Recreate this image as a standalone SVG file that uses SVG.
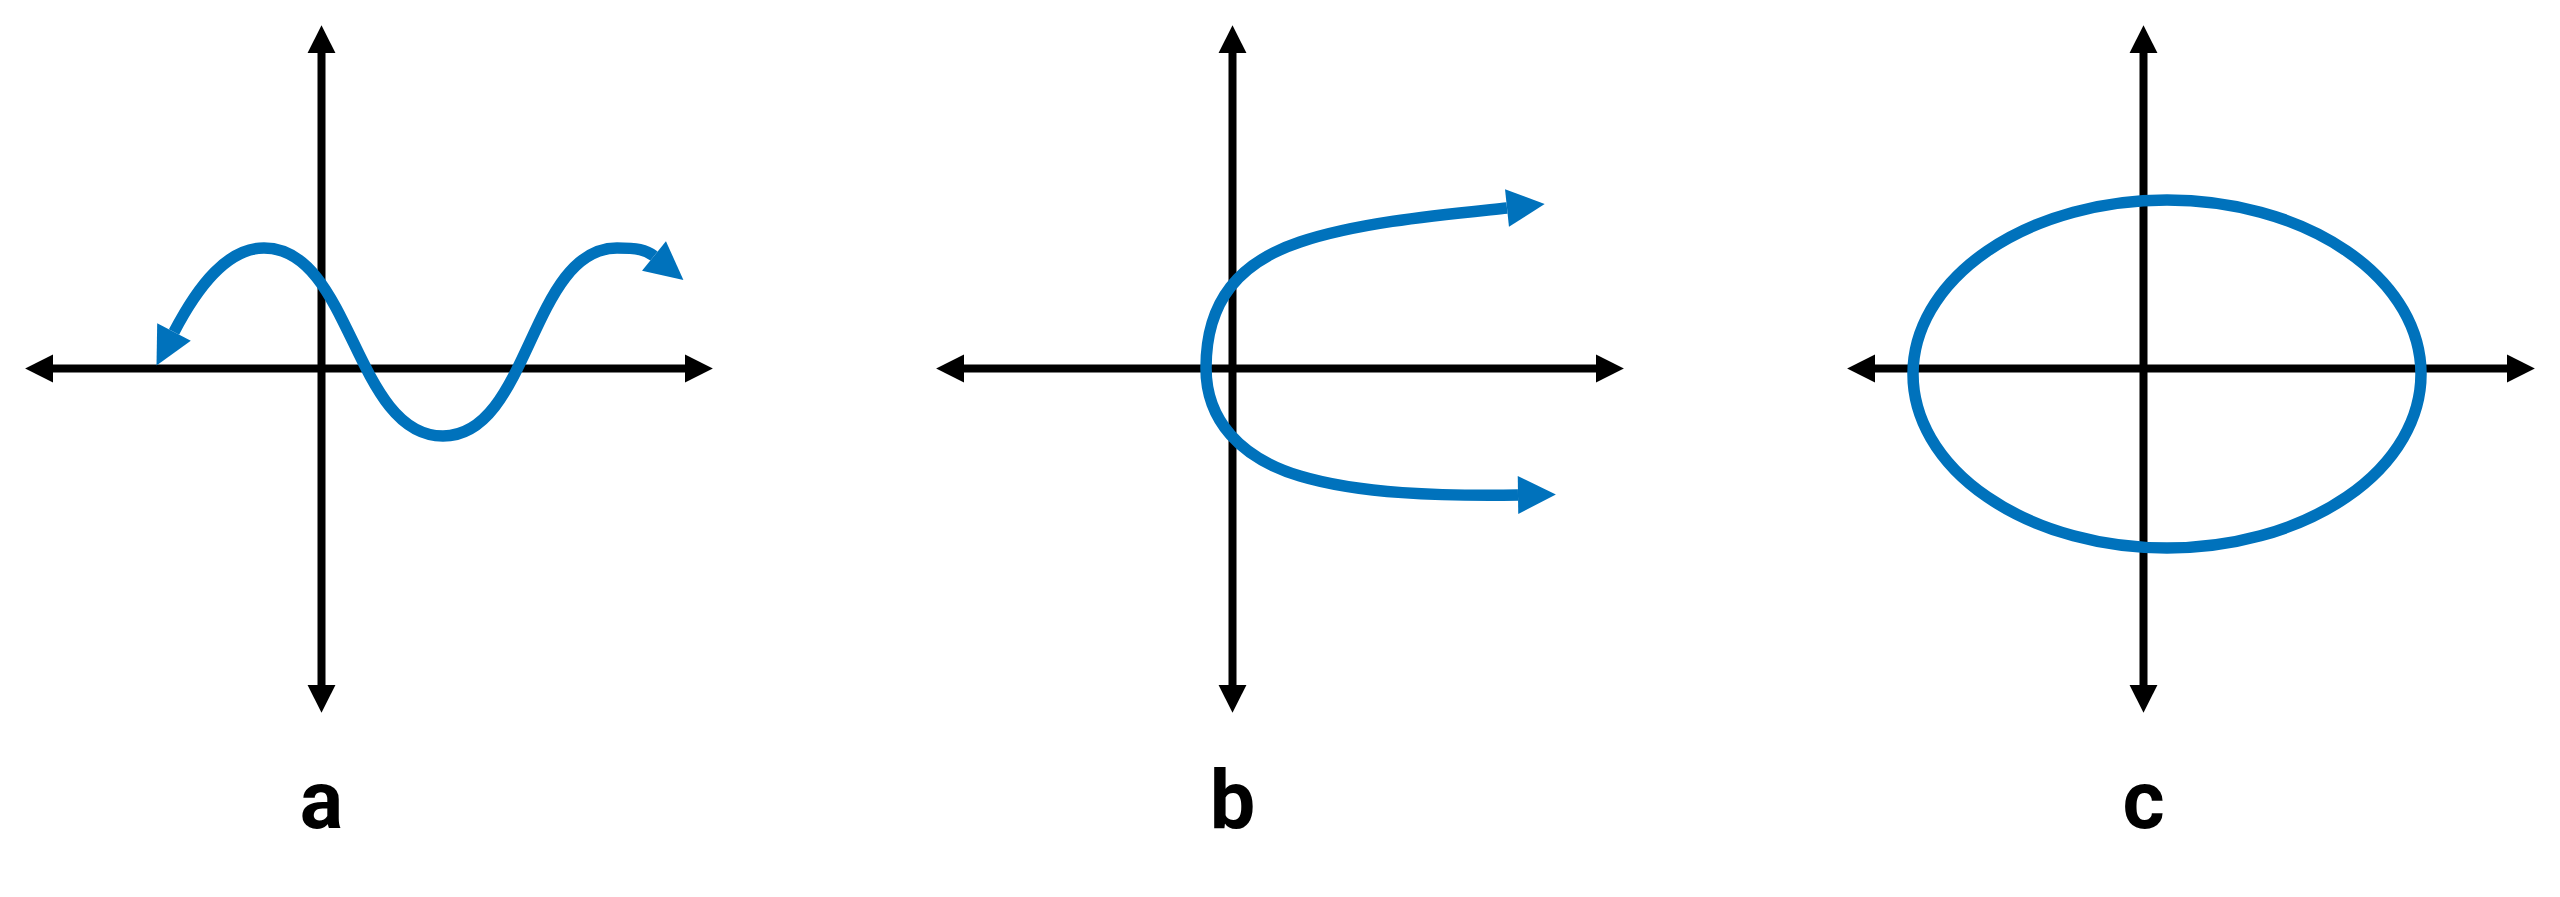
<svg xmlns="http://www.w3.org/2000/svg" width="2560" height="897" viewBox="0 0 2560 897">
  <style>
    .axis { stroke: #000000; stroke-width: 8; fill: none; marker-start: url(#axisArrow); marker-end: url(#axisArrow); }
    .curve { stroke: #0072BC; stroke-width: 11.5; fill: none; stroke-linejoin: round; }
    .arrowed { marker-start: url(#blueArrow); marker-end: url(#blueArrow); }
    .label { font-family: Roboto, "Liberation Sans", sans-serif; font-weight: bold; font-size: 81px; fill: #000000; text-anchor: middle; }
  </style>
  <defs>
    <marker id="axisArrow" markerUnits="userSpaceOnUse" markerWidth="30" markerHeight="30" viewBox="0 -14 27 28" refX="0" refY="0" orient="auto-start-reverse" overflow="visible">
      <path d="M0,-13 L26,0 L0,13 Z" fill="#000000"/>
    </marker>
    <marker id="blueArrow" markerUnits="userSpaceOnUse" markerWidth="40" markerHeight="40" viewBox="0 -19 37 38" refX="0" refY="0" orient="auto-start-reverse" overflow="visible">
      <path d="M0,-18 L36,0 L0,18 Z" fill="#0072BC"/>
    </marker>
  </defs>
  <rect x="0" y="0" width="2560" height="897" fill="#ffffff"/>

  <g id="panel-a">
    <g id="axes-a">
      <line class="axis" x1="53" y1="368.5" x2="685" y2="368.5"/>
      <line class="axis" x1="321.5" y1="53" x2="321.5" y2="685"/>
    </g>
    <path id="curve-a" class="curve arrowed" d="M 174 332 C 199 284, 228 248, 264 248 C 352 248, 354 436, 443 436 C 530 436, 530 248, 617 248 C 637 248, 646 249.5, 654 256"/>
    <text class="label" x="321.5" y="828">a</text>
  </g>

  <g id="panel-b">
    <g id="axes-b">
      <line class="axis" x1="964" y1="368.5" x2="1596" y2="368.5"/>
      <line class="axis" x1="1232.5" y1="53" x2="1232.5" y2="685"/>
    </g>
    <path id="curve-b" class="curve arrowed" d="M 1507 208 C 1440 215, 1360 222, 1300 242 C 1240 262, 1206 300, 1206 368 C 1206 420, 1240 458, 1300 476 C 1360 494, 1440 496, 1518 495"/>
    <text class="label" x="1232.5" y="828">b</text>
  </g>

  <g id="panel-c">
    <g id="axes-c">
      <line class="axis" x1="1875" y1="368.5" x2="2507" y2="368.5"/>
      <line class="axis" x1="2143.5" y1="53" x2="2143.5" y2="685"/>
    </g>
    <ellipse id="curve-c" class="curve" cx="2167" cy="374" rx="254" ry="174"/>
    <text class="label" x="2143.5" y="828">c</text>
  </g>
</svg>
